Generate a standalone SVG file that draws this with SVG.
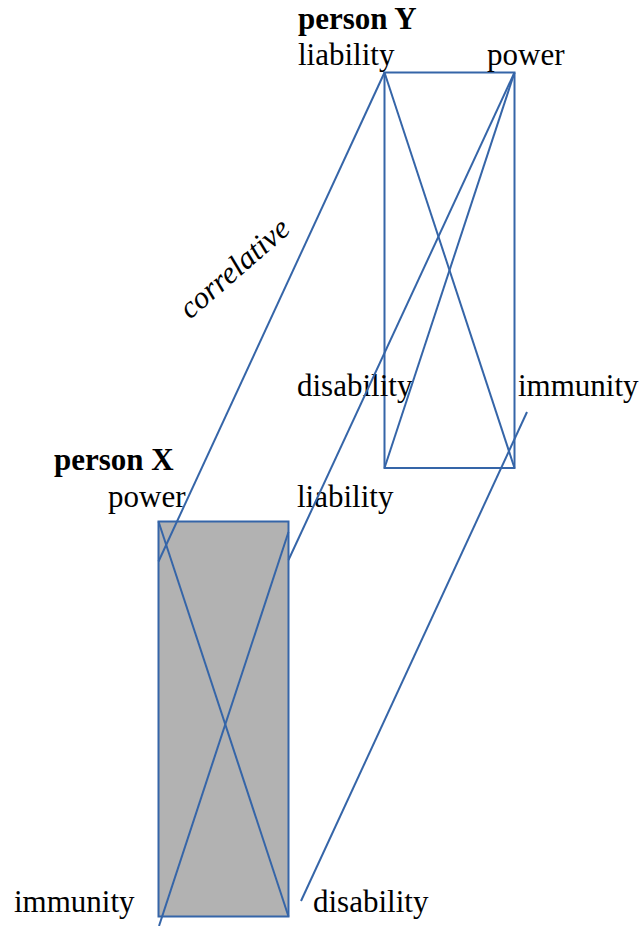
<svg xmlns="http://www.w3.org/2000/svg" width="644" height="926" viewBox="0 0 644 926">
<style>
text{font-family:"Liberation Serif","Times New Roman",serif;font-size:31px;fill:#000}
.b{font-weight:bold}
.i{font-style:italic}
.ln{stroke:#3565A8;stroke-width:2;fill:none}
</style>
<rect width="644" height="926" fill="#fff"/>
<g id="personX">
<rect x="158.5" y="521.5" width="130" height="395" fill="#b2b2b2" stroke="#3565A8" stroke-width="2"/>
<text class="b" x="54" y="470">person X</text>
<text x="108" y="507">power</text>
<text x="297" y="507">liability</text>
<text x="14" y="912">immunity</text>
<text x="313" y="912">disability</text>
</g>
<g id="personY">
<rect x="384.5" y="72.5" width="130" height="395.5" fill="none" stroke="#3565A8" stroke-width="2"/>
<text class="b" x="298" y="29">person Y</text>
<text x="298" y="65">liability</text>
<text x="487" y="65">power</text>
<text x="297" y="396">disability</text>
<text x="518" y="396">immunity</text>
</g>
<g id="connectors">
<line class="ln" x1="158.5" y1="521.5" x2="288.5" y2="916.5"/>
<line class="ln" x1="288.5" y1="532" x2="159" y2="926"/>
<line class="ln" x1="384.5" y1="72.5" x2="514.5" y2="468"/>
<line class="ln" x1="514.5" y1="72.5" x2="384.5" y2="468"/>
<line class="ln" x1="384.5" y1="72.5" x2="158.5" y2="561.5"/>
<line class="ln" x1="514.5" y1="72.5" x2="288.5" y2="560"/>
<line class="ln" x1="527" y1="412" x2="301" y2="901"/>
<text class="i" transform="translate(190,320) rotate(-41)">correlative</text>
</g>
</svg>
